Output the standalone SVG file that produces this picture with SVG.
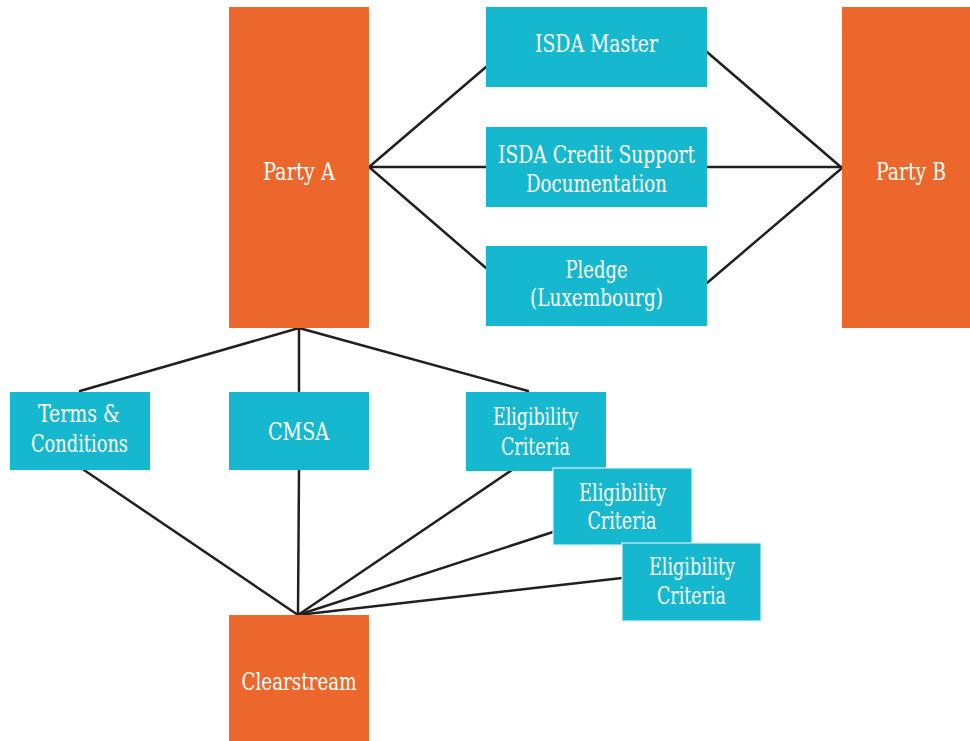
<svg xmlns="http://www.w3.org/2000/svg" width="970" height="741" viewBox="0 0 970 741">
<style>
.o{fill:#EB672B}
.c{fill:#15B8CE}
.b{stroke:#D9F1F5;stroke-width:1.2}
text{font-family:"DejaVu Serif Condensed","DejaVu Serif",serif;font-stretch:condensed;font-size:25px;fill:#FFFFFF;text-anchor:middle}
#connectors line{stroke:#231F20;stroke-width:2.5;stroke-linecap:round}
</style>
<rect width="970" height="741" fill="#FFFFFF"/>
<g id="connectors">
<line x1="369" y1="167" x2="486" y2="67"/>
<line x1="369" y1="167" x2="486" y2="167"/>
<line x1="369" y1="167" x2="486" y2="268"/>
<line x1="707" y1="52" x2="842" y2="168"/>
<line x1="707" y1="167" x2="842" y2="167"/>
<line x1="707" y1="283" x2="842" y2="168"/>
<line x1="299" y1="328" x2="80" y2="391"/>
<line x1="299" y1="328" x2="299" y2="391"/>
<line x1="299" y1="328" x2="528" y2="391"/>
<line x1="84" y1="470" x2="298" y2="615"/>
<line x1="299" y1="470" x2="298" y2="615"/>
<line x1="512" y1="470" x2="298" y2="615"/>
<line x1="553" y1="532" x2="298" y2="615"/>
<line x1="622" y1="578" x2="298" y2="615"/>
</g>
<g id="partyA"><rect class="o" x="229" y="7" width="140" height="321"/><text x="299" y="180" textLength="72" lengthAdjust="spacingAndGlyphs">Party A</text></g>
<g id="partyB"><rect class="o" x="842" y="7" width="128" height="321"/><text x="911" y="180" textLength="70" lengthAdjust="spacingAndGlyphs">Party B</text></g>
<g id="isdaMaster"><rect class="c" x="486" y="7" width="221" height="80"/><text x="596.5" y="52" textLength="123" lengthAdjust="spacingAndGlyphs">ISDA Master</text></g>
<g id="isdaCSD"><rect class="c" x="486" y="127" width="221" height="80"/><text x="596.5" y="163" textLength="197" lengthAdjust="spacingAndGlyphs">ISDA Credit Support</text><text x="596.5" y="192" textLength="141" lengthAdjust="spacingAndGlyphs">Documentation</text></g>
<g id="pledge"><rect class="c" x="486" y="246" width="221" height="80"/><text x="596.5" y="278" textLength="62" lengthAdjust="spacingAndGlyphs">Pledge</text><text x="596.5" y="306" textLength="133" lengthAdjust="spacingAndGlyphs">(Luxembourg)</text></g>
<g id="terms"><rect class="c" x="10" y="392" width="140" height="78"/><text x="79" y="422" textLength="82" lengthAdjust="spacingAndGlyphs">Terms &amp;</text><text x="79.5" y="452" textLength="97" lengthAdjust="spacingAndGlyphs">Conditions</text></g>
<g id="cmsa"><rect class="c" x="229" y="392" width="140" height="78"/><text x="298.5" y="440" textLength="61" lengthAdjust="spacingAndGlyphs">CMSA</text></g>
<g id="elig1"><rect class="c" x="466" y="392" width="140" height="79"/><text x="535.5" y="425" textLength="85" lengthAdjust="spacingAndGlyphs">Eligibility</text><text x="535.5" y="455" textLength="69" lengthAdjust="spacingAndGlyphs">Criteria</text></g>
<g id="elig2"><rect class="c b" x="553" y="468" width="139" height="77"/><text x="622.5" y="501" textLength="87" lengthAdjust="spacingAndGlyphs">Eligibility</text><text x="622" y="529" textLength="69" lengthAdjust="spacingAndGlyphs">Criteria</text></g>
<g id="elig3"><rect class="c b" x="622" y="543" width="139" height="78"/><text x="692" y="575" textLength="86" lengthAdjust="spacingAndGlyphs">Eligibility</text><text x="691.5" y="604" textLength="69" lengthAdjust="spacingAndGlyphs">Criteria</text></g>
<g id="clearstream"><rect class="o" x="229" y="615" width="140" height="126"/><text x="299" y="690" textLength="115" lengthAdjust="spacingAndGlyphs">Clearstream</text></g>
</svg>
